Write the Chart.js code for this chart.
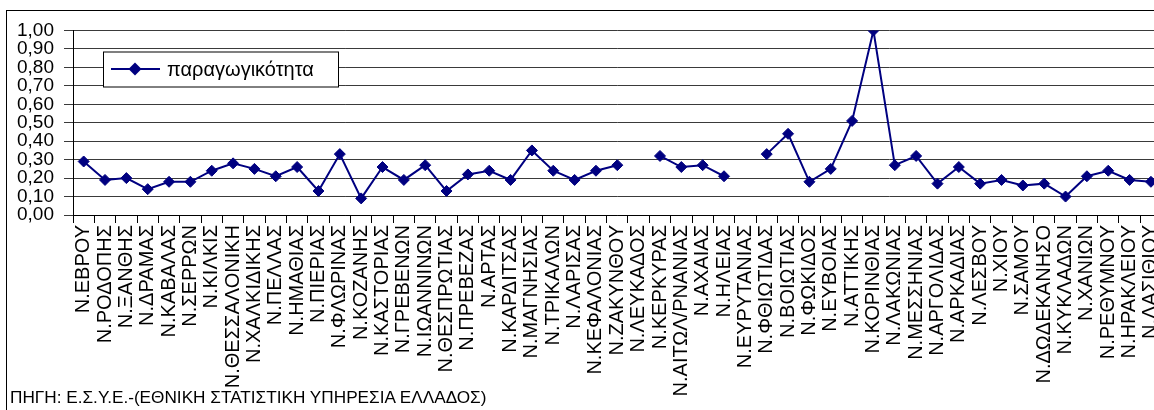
<!DOCTYPE html>
<html>
<head>
<meta charset="utf-8">
<script src="https://cdn.jsdelivr.net/npm/chart.js@4/dist/chart.umd.min.js"></script>
<style>
  html, body { margin: 0; padding: 0; background: #fff; overflow: hidden; }
  #frame {
    position: absolute; left: 6px; top: 10px;
    width: 1180px; height: 420px;
    border: 1px solid #000; box-sizing: border-box;
  }
  #wrap { position: absolute; left: 0; top: 0; width: 1170px; height: 399px; }
  #source {
    position: absolute; left: 10px; top: 387px;
    font: 17.2px "Liberation Sans", Arial, sans-serif; line-height: 20px; color: #000;
    white-space: nowrap;
  }
</style>
</head>
<body>
<div id="frame"><div id="wrap"><canvas id="chartContainer1"></canvas></div></div>
<div id="source">ΠΗΓΗ: Ε.Σ.Υ.Ε.-(ΕΘΝΙΚΗ ΣΤΑΤΙΣΤΙΚΗ ΥΠΗΡΕΣΙΑ ΕΛΛΑΔΟΣ)</div>
<script>
"use strict";

// 1: data
let prefectures = [
	"N.ΕΒΡΟΥ", "N.ΡΟΔΟΠΗΣ", "N.ΞΑΝΘΗΣ", "N.ΔΡΑΜΑΣ", "N.ΚΑΒΑΛΑΣ", "N.ΣΕΡΡΩΝ",
	"N.ΚΙΛΚΙΣ", "N.ΘΕΣΣΑΛΟΝΙΚΗ", "N.ΧΑΛΚΙΔΙΚΗΣ", "N.ΠΕΛΛΑΣ", "N.ΗΜΑΘΙΑΣ",
	"N.ΠΙΕΡΙΑΣ", "N.ΦΛΩΡΙΝΑΣ", "N.ΚΟΖΑΝΗΣ", "N.ΚΑΣΤΟΡΙΑΣ", "N.ΓΡΕΒΕΝΩΝ",
	"N.ΙΩΑΝΝΙΝΩΝ", "N.ΘΕΣΠΡΩΤΙΑΣ", "N.ΠΡΕΒΕΖΑΣ", "N.ΑΡΤΑΣ", "N.ΚΑΡΔΙΤΣΑΣ",
	"N.ΜΑΓΝΗΣΙΑΣ", "N.ΤΡΙΚΑΛΩΝ", "N.ΛΑΡΙΣΑΣ", "N.ΚΕΦΑΛΟΝΙΑΣ", "N.ΖΑΚΥΝΘΟΥ",
	"N.ΛΕΥΚΑΔΟΣ", "N.ΚΕΡΚΥΡΑΣ", "N.ΑΙΤΩΛ/ΡΝΑΝΙΑΣ", "N.ΑΧΑΙΑΣ", "N.ΗΛΕΙΑΣ",
	"N.ΕΥΡΥΤΑΝΙΑΣ", "N.ΦΘΙΩΤΙΔΑΣ", "N.ΒΟΙΩΤΙΑΣ", "N.ΦΩΚΙΔΟΣ", "N.ΕΥΒΟΙΑΣ",
	"N.ΑΤΤΙΚΗΣ", "N.ΚΟΡΙΝΘΙΑΣ", "N.ΛΑΚΩΝΙΑΣ", "N.ΜΕΣΣΗΝΙΑΣ", "N.ΑΡΓΟΛΙΔΑΣ",
	"N.ΑΡΚΑΔΙΑΣ", "N.ΛΕΣΒΟΥ", "N.ΧΙΟΥ", "N.ΣΑΜΟΥ", "N.ΔΩΔΕΚΑΝΗΣΟ",
	"N.ΚΥΚΛΑΔΩΝ", "N.ΧΑΝΙΩΝ", "N.ΡΕΘΥΜΝΟΥ", "N.ΗΡΑΚΛΕΙΟΥ", "N.ΛΑΣΙΘΙΟΥ"
];

// productivity per prefecture (null = no value, line breaks there)
let productivity = [
	0.29, 0.19, 0.20, 0.14, 0.18, 0.18, 0.24, 0.28, 0.25, 0.21, 0.26,
	0.13, 0.33, 0.09, 0.26, 0.19, 0.27, 0.13, 0.22, 0.24, 0.19, 0.35,
	0.24, 0.19, 0.24, 0.27, null, 0.32, 0.26, 0.27, 0.21, null, 0.33,
	0.44, 0.18, 0.25, 0.51, 1.00, 0.27, 0.32, 0.17, 0.26, 0.17, 0.19,
	0.16, 0.17, 0.10, 0.21, 0.24, 0.19, 0.18
];

let seriesName = "παραγωγικότητα";
let yTickLabels = ["0,00", "0,10", "0,20", "0,30", "0,40", "0,50", "0,60", "0,70", "0,80", "0,90", "1,00"];

const FONT = '"Liberation Sans", Arial, sans-serif';
const NAVY = '#000080';

// legend drawn inside the plot, like the excel one
const boxLegend = {
	id: 'boxLegend',
	afterDraw(chart) {
		const ctx = chart.ctx;
		const a = chart.chartArea;
		const x = a.left + 30, y = a.top + 21, w = 235, h = 35;
		ctx.save();
		ctx.fillStyle = '#fff';
		ctx.fillRect(x, y, w, h);
		ctx.strokeStyle = '#000';
		ctx.lineWidth = 1;
		ctx.strokeRect(x + 0.5, y + 0.5, w, h);
		const cy = y + h / 2;
		ctx.strokeStyle = NAVY;
		ctx.lineWidth = 2;
		ctx.beginPath();
		ctx.moveTo(x + 8, cy);
		ctx.lineTo(x + 57, cy);
		ctx.stroke();
		ctx.fillStyle = NAVY;
		ctx.beginPath();
		ctx.moveTo(x + 32, cy - 6.5);
		ctx.lineTo(x + 38.5, cy);
		ctx.lineTo(x + 32, cy + 6.5);
		ctx.lineTo(x + 25.5, cy);
		ctx.closePath();
		ctx.fill();
		ctx.fillStyle = '#000';
		ctx.font = '20px ' + FONT;
		ctx.textBaseline = 'middle';
		ctx.fillText(seriesName, x + 64, cy + 1);
		ctx.restore();
	}
};

function appendChart() {
	let chart = new Chart(document.querySelector('#chartContainer1'), {
		type: 'line',
		data: {
			labels: prefectures,
			datasets: [{
				label: seriesName,
				data: productivity,
				borderColor: NAVY,
				backgroundColor: NAVY,
				borderWidth: 2,
				pointStyle: 'rectRot',
				pointRadius: 5.5,
				pointBorderWidth: 1,
				pointHoverRadius: 5.5,
				spanGaps: false,
				tension: 0
			}]
		},
		options: {
			responsive: true,
			maintainAspectRatio: false,
			animation: false,
			layout: { padding: { top: 19, right: 1, bottom: 0, left: 0 } },
			plugins: {
				legend: { display: false },
				tooltip: { enabled: false }
			},
			scales: {
				x: {
					offset: true,
					grid: {
						offset: true,
						drawOnChartArea: false,
						drawTicks: true,
						tickLength: 8,
						color: '#000'
					},
					border: { display: true, color: '#000', width: 1 },
					ticks: {
						autoSkip: false,
						minRotation: 90,
						maxRotation: 90,
						padding: 2,
						color: '#000',
						font: { family: FONT, size: 20 }
					},
					afterFit(scale) { scale.height = 195; }
				},
				y: {
					min: 0,
					max: 1,
					grid: {
						color: '#3a3a3a',
						lineWidth: 1,
						drawTicks: true,
						tickLength: 9
					},
					border: { display: true, color: '#000', width: 1 },
					ticks: {
						autoSkip: false,
						stepSize: 0.1,
						padding: 10,
						color: '#000',
						font: { family: FONT, size: 19, lineHeight: 1 },
						callback: (v, i) => yTickLabels[i]
					},
					afterFit(scale) { scale.width = 66; }
				}
			}
		},
		plugins: [boxLegend]
	});
}

appendChart();
</script>
</body>
</html>
